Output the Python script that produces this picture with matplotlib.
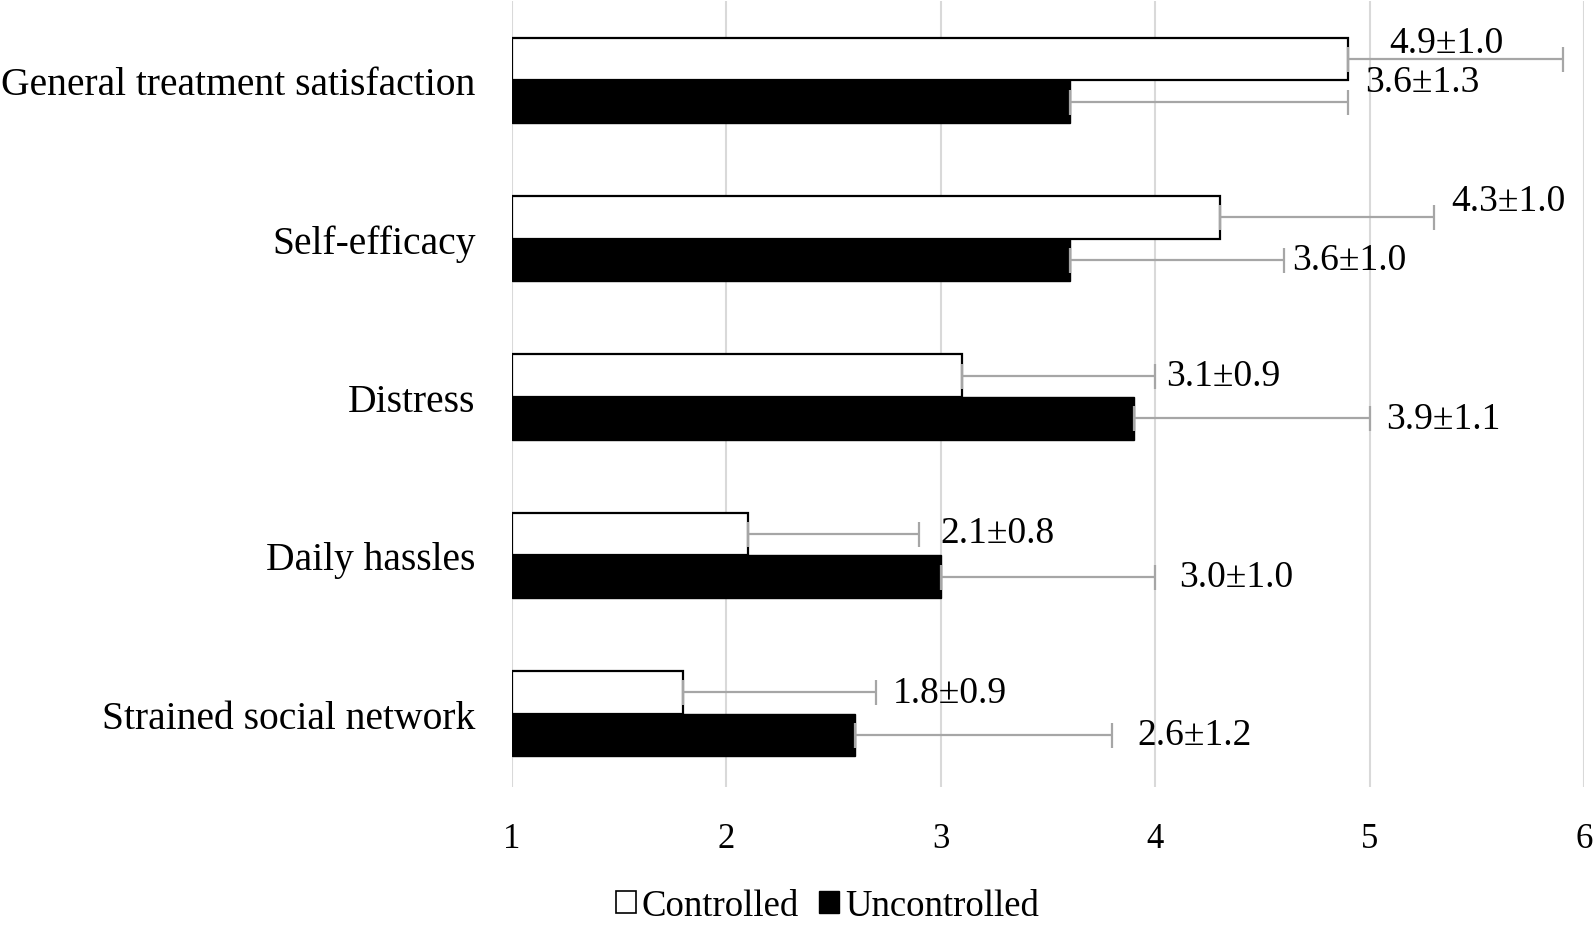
import numpy as np
import matplotlib
matplotlib.use("Agg")
import matplotlib.pyplot as plt
from matplotlib.patches import Patch

plt.rcParams['font.family'] = ['Liberation Serif', 'DejaVu Serif']

categories = ['General treatment satisfaction', 'Self-efficacy', 'Distress',
              'Daily hassles', 'Strained social network']
controlled_mean = [4.9, 4.3, 3.1, 2.1, 1.8]
controlled_sd = [1.0, 1.0, 0.9, 0.8, 0.9]
uncontrolled_mean = [3.6, 3.6, 3.9, 3.0, 2.6]
uncontrolled_sd = [1.3, 1.0, 1.1, 1.0, 1.2]
x_ticks = [1, 2, 3, 4, 5, 6]

# label offsets (points) from the end of each error bar, hand placed like in the original
ctrl_offsets = [(-125, 12), (12, 12), (8, 0), (15, 1), (12, 0)]
unctrl_offsets = [(12, 14), (6, 0), (12, 0), (17, 0), (18, 0)]

bh = 0.27
y = np.arange(len(categories))

fig = plt.figure(figsize=(15.94, 9.28), dpi=100)
ax = fig.add_axes([0.321, 0.1509, 0.673, 0.8468])

err_kw = dict(ecolor='#a6a6a6', elinewidth=1.6, capsize=9, capthick=1.6)
ax.barh(y - bh / 2, [m - 1 for m in controlled_mean], left=1, height=bh,
        color='white', edgecolor='black', linewidth=1.6,
        xerr=[np.zeros(5), controlled_sd], error_kw=err_kw, zorder=3)
ax.barh(y + bh / 2, [m - 1 for m in uncontrolled_mean], left=1, height=bh,
        color='black', edgecolor='black', linewidth=1.0,
        xerr=[np.zeros(5), uncontrolled_sd], error_kw=err_kw, zorder=3)

for i in range(len(categories)):
    m, s = controlled_mean[i], controlled_sd[i]
    dx, dy = ctrl_offsets[i]
    ax.annotate(f'{m:.1f}±{s:.1f}', xy=(m + s, y[i] - bh / 2), xytext=(dx, dy),
                textcoords='offset points', ha='left', va='center', fontsize=27)
    m, s = uncontrolled_mean[i], uncontrolled_sd[i]
    dx, dy = unctrl_offsets[i]
    ax.annotate(f'{m:.1f}±{s:.1f}', xy=(m + s, y[i] + bh / 2), xytext=(dx, dy),
                textcoords='offset points', ha='left', va='center', fontsize=27)

ax.set_xlim(1, 6)
ax.set_ylim(4.463, -0.5)
ax.set_xticks(x_ticks)
ax.set_xticklabels([str(t) for t in x_ticks], fontsize=25)
ax.set_yticks(y)
ax.set_yticklabels(categories, fontsize=28.5)
ax.tick_params(axis='both', length=0)
ax.tick_params(axis='x', pad=25)
ax.tick_params(axis='y', pad=26)
ax.grid(axis='x', color='#d9d9d9', linewidth=1.5, zorder=0)
ax.set_axisbelow(True)
for sp in ax.spines.values():
    sp.set_visible(False)

handles = [Patch(facecolor='white', edgecolor='black', linewidth=1.2, label='Controlled'),
           Patch(facecolor='black', edgecolor='black', label='Uncontrolled')]
fig.legend(handles=handles, loc='center', bbox_to_anchor=(0.519, 0.023), ncol=2,
           frameon=False, fontsize=26.5, handlelength=0.55, handleheight=0.55,
           handletextpad=0.15, columnspacing=0.55)

fig.savefig('out.png', dpi=100)
